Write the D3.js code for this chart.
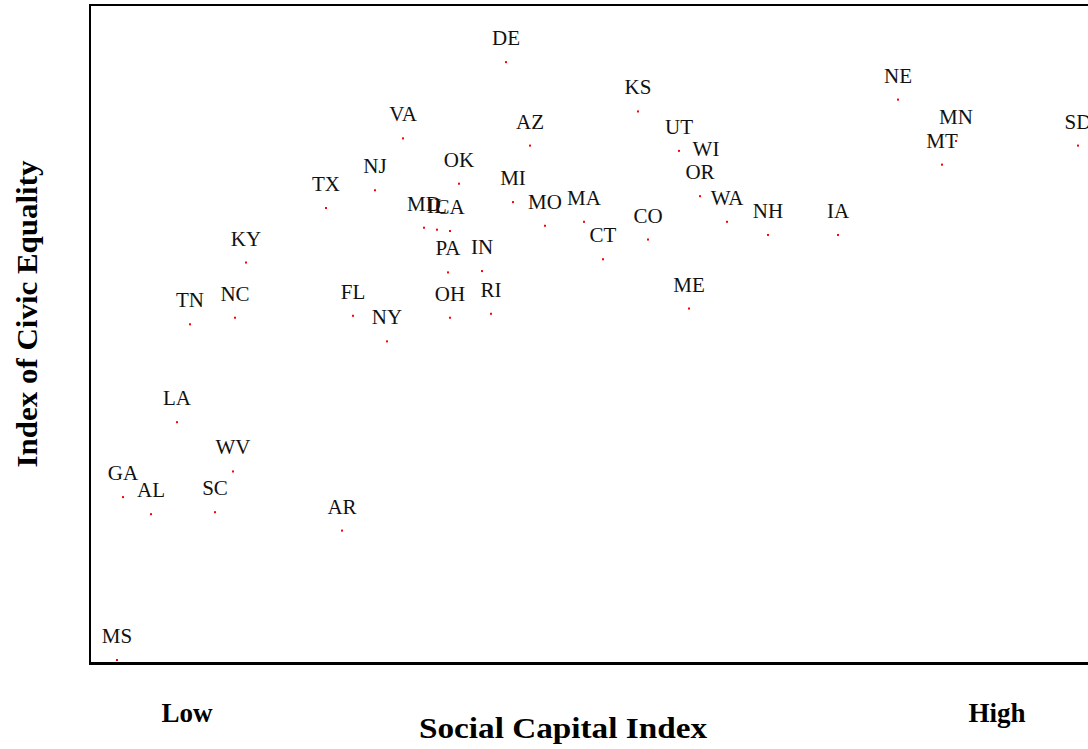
<!DOCTYPE html>
<html>
<head>
<meta charset="utf-8">
<script src="https://cdn.jsdelivr.net/npm/d3@7"></script>
<style>
  body { margin: 0; background: #fff; }
  svg { display: block; }
</style>
</head>
<body>
<svg width="1088" height="749"></svg>
<script>
// states, social capital index (x) and civic equality index (y)
const states = ['DE','KS','NE','MN','SD','VA','AZ','UT','MT','WI','OK','NJ','TX','MI','OR',
  'MD','IL','CA','MA','MO','WA','NH','IA','CO','CT','KY','PA','IN','ME','TN','NC','FL',
  'OH','RI','NY','LA','WV','GA','AL','SC','AR','MS'];
const socialCapital = [4.16,5.48,8.08,8.66,9.88,3.13,4.40,5.89,8.52,6.16,3.69,2.85,2.36,4.23,6.10,
  3.34,3.47,3.60,4.94,4.55,6.37,6.78,7.48,5.58,5.13,1.56,3.58,3.92,5.99,1.00,1.45,2.63,
  3.60,4.01,2.97,0.87,1.43,0.33,0.61,1.25,2.52,0.27];
const civicEquality = [9.13,8.38,8.56,7.93,7.86,7.97,7.86,7.78,7.57,7.45,7.28,7.18,6.91,7.00,7.09,
  6.61,6.58,6.56,6.70,6.64,6.70,6.50,6.50,6.43,6.13,6.08,5.93,5.95,5.38,5.14,5.24,5.27,
  5.24,5.30,4.88,3.65,2.90,2.51,2.25,2.28,2.00,0.03];
const endLabels = ['Low', 'High'];

const data = states.map((s, i) => ({ state: s, x: socialCapital[i], y: civicEquality[i] }));

const svg = d3.select('svg');
const plotLeft = 90, plotTop = 5, plotBottom = 662, plotRight = 1090;

const x = d3.scaleLinear().domain([0, 10]).range([plotLeft, plotRight]);
const y = d3.scaleLinear().domain([0, 10]).range([plotBottom, plotTop]);

// frame
svg.append('rect')
    .attr('x', plotLeft).attr('y', plotTop)
    .attr('width', 1100 - plotLeft).attr('height', plotBottom - plotTop + 1)
    .attr('fill', 'none')
    .attr('stroke', '#000')
    .attr('stroke-width', 2);
svg.append('line')
    .attr('x1', plotLeft - 1).attr('x2', 1100)
    .attr('y1', plotBottom + 2).attr('y2', plotBottom + 2)
    .attr('stroke', '#000').attr('stroke-width', 2);

const g = svg.append('g');

g.selectAll('rect.dot')
    .data(data)
    .enter().append('rect')
    .attr('class', 'dot')
    .attr('x', d => x(d.x) - 1)
    .attr('y', d => y(d.y) - 1)
    .attr('width', 2)
    .attr('height', 2)
    .attr('fill', '#ff0000');

g.selectAll('text.lbl')
    .data(data)
    .enter().append('text')
    .attr('class', 'lbl')
    .attr('x', d => x(d.x))
    .attr('y', d => y(d.y) - 17)
    .attr('text-anchor', 'middle')
    .attr('font-family', '"Liberation Serif", "Times New Roman", serif')
    .attr('font-size', 21)
    .attr('fill', '#111')
    .text(d => d.state);

// axis titles
svg.append('text')
    .attr('x', 563).attr('y', 738)
    .attr('text-anchor', 'middle')
    .attr('font-family', '"Liberation Serif", "Times New Roman", serif')
    .attr('font-weight', 'bold')
    .attr('font-size', 30)
    .attr('textLength', 288)
    .attr('lengthAdjust', 'spacingAndGlyphs')
    .text('Social Capital Index');

svg.append('text')
    .attr('transform', 'translate(37,314) rotate(-90)')
    .attr('text-anchor', 'middle')
    .attr('font-family', '"Liberation Serif", "Times New Roman", serif')
    .attr('font-weight', 'bold')
    .attr('font-size', 30)
    .attr('textLength', 307)
    .attr('lengthAdjust', 'spacingAndGlyphs')
    .text('Index of Civic Equality');

svg.selectAll('text.end')
    .data(endLabels)
    .enter().append('text')
    .attr('class', 'end')
    .attr('x', (d, i) => i === 0 ? 187 : 997)
    .attr('y', 722)
    .attr('text-anchor', 'middle')
    .attr('font-family', '"Liberation Serif", "Times New Roman", serif')
    .attr('font-weight', 'bold')
    .attr('font-size', 27)
    .text(d => d);
</script>
</body>
</html>
